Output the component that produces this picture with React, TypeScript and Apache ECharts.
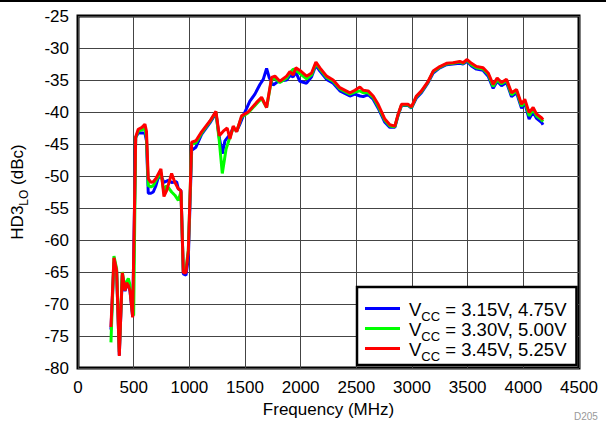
import React, { useEffect, useRef } from "react";
import * as echarts from "echarts";

const xTicks = [0, 500, 1000, 1500, 2000, 2500, 3000, 3500, 4000, 4500];
const yTicks = [-80, -75, -70, -65, -60, -55, -50, -45, -40, -35, -30, -25];

const seriesNames = [
  "{v|V}{s|CC}{v| = 3.15V, 4.75V}",
  "{v|V}{s|CC}{v| = 3.30V, 5.00V}",
  "{v|V}{s|CC}{v| = 3.45V, 5.25V}",
];

const blueData: [number, number][] = [
  [296, -74], [323, -63.5], [347, -65], [371, -78], [398, -65.5], [422, -68], [437, -67], [452, -67], [467, -68], [491, -72],
  [518, -44], [541, -43.3], [575, -43.3], [601, -43.3], [615, -44.5], [631, -52.7], [655, -52.7], [676, -52.5], [700, -51.5],
  [720, -50.3], [745, -50.0], [772, -51.0], [811, -50.7], [841, -51], [886, -50.9], [901, -52.0], [925, -52.3], [946, -65.3],
  [970, -65.5], [991, -62.8], [1021, -46], [1059, -45.5], [1110, -43.5], [1185, -41.7], [1239, -40.2], [1269, -44], [1296, -46.5],
  [1320, -44.5], [1365, -43.5], [1394, -42.5], [1425, -43], [1454, -41.9], [1484, -40.6], [1544, -38.3], [1589, -37.2],
  [1634, -35.7], [1664, -34.9], [1694, -33.2], [1717, -34.6], [1753, -35.8], [1798, -35.2], [1874, -35], [1903, -34.3],
  [1933, -34.5], [1957, -33.8], [1993, -35.2], [2053, -35.5], [2098, -34.5], [2137, -32.7], [2173, -33.6], [2233, -34.9],
  [2292, -35.5], [2352, -36.7], [2442, -37.5], [2487, -37.2], [2532, -37.5], [2562, -37.6], [2606, -37.3], [2651, -38],
  [2696, -39.4], [2756, -41.6], [2801, -42.4], [2846, -42.4], [2876, -40.5], [2906, -39], [2966, -39], [2995, -39.4],
  [3040, -37.8], [3085, -37.0], [3145, -35.4], [3190, -33.9], [3250, -33.1], [3310, -32.6], [3369, -32.5], [3429, -32.4],
  [3459, -32.5], [3495, -32.1], [3534, -32.8], [3579, -33.3], [3639, -33.5], [3684, -34.4], [3729, -36.3], [3765, -35.2],
  [3804, -35.9], [3849, -35.4], [3894, -37.6], [3939, -37.0], [3984, -39.4], [4013, -38.6], [4052, -41.1], [4088, -40.0],
  [4118, -41.0], [4163, -41.6], [4177, -42.0],
];

const greenData: [number, number][] = [
  [296, -76], [323, -62.5], [347, -64.5], [371, -77.5], [398, -65], [422, -67.5], [437, -66.5], [452, -66.0], [467, -67],
  [491, -71.6], [500, -71.8], [518, -44], [541, -43], [575, -42.8], [601, -42.5], [615, -44], [631, -51.5], [655, -51.7],
  [676, -51.5], [700, -50.7], [745, -49.5], [772, -52.5], [796, -51.5], [820, -52], [841, -52.5], [870, -53], [901, -53.8],
  [925, -52.5], [946, -65], [970, -64.5], [991, -61.5], [1021, -45], [1059, -44.8], [1110, -43.3], [1185, -41.5], [1239, -40],
  [1269, -44.5], [1296, -49.6], [1330, -45.8], [1365, -43.9], [1394, -42.5], [1425, -43.0], [1469, -40.8], [1529, -40.1],
  [1604, -38.7], [1649, -37.9], [1694, -39.3], [1739, -34.9], [1769, -34.7], [1813, -35.4], [1874, -34.7], [1903, -33.9],
  [1933, -33.3], [1957, -33.5], [1993, -34.0], [2053, -34.8], [2098, -34.2], [2137, -32.4], [2173, -33.3], [2233, -34.6],
  [2292, -35.2], [2352, -36.4], [2442, -37.2], [2487, -36.9], [2532, -36.7], [2562, -37.0], [2606, -37.0], [2651, -37.7],
  [2696, -39.1], [2756, -41.3], [2801, -42.2], [2846, -42.3], [2876, -40.4], [2906, -38.9], [2966, -38.9], [2995, -39.3],
  [3040, -37.6], [3085, -36.8], [3145, -35.3], [3190, -33.7], [3250, -33.0], [3310, -32.5], [3369, -32.4], [3429, -32.2],
  [3459, -32.4], [3495, -31.9], [3534, -32.6], [3579, -33.1], [3639, -33.3], [3684, -34.1], [3729, -36.0], [3765, -35.0],
  [3804, -35.6], [3849, -35.1], [3894, -37.3], [3939, -36.7], [3984, -39.1], [4013, -38.3], [4052, -40.6], [4088, -39.6],
  [4118, -40.6], [4163, -41.2], [4177, -41.5],
];

const redData: [number, number][] = [
  [296, -73.6], [323, -62.8], [347, -64.8], [371, -78.1], [398, -65.1], [422, -67.9], [437, -66.7], [452, -67.1], [467, -67.9],
  [491, -72.1], [518, -43.9], [541, -42.7], [575, -42.4], [601, -41.9], [615, -43], [631, -50.4], [655, -51.0], [676, -50.9],
  [700, -50.4], [745, -48.9], [772, -53.2], [796, -52.3], [841, -49.6], [870, -51], [901, -52.0], [925, -52.3], [946, -65.1],
  [970, -65.1], [991, -61.7], [1021, -44.7], [1059, -44.5], [1110, -43.1], [1185, -41.4], [1239, -39.9], [1269, -43.7],
  [1305, -43.0], [1340, -42.5], [1365, -44.2], [1394, -42.2], [1425, -43.1], [1469, -40.6], [1529, -40.0], [1604, -38.5],
  [1649, -37.7], [1694, -39.3], [1739, -34.6], [1769, -34.4], [1813, -35.2], [1874, -34.4], [1903, -33.7], [1933, -34.2],
  [1957, -33.1], [1993, -33.5], [2053, -34.4], [2098, -33.9], [2137, -32.2], [2173, -33.1], [2233, -34.4], [2292, -35.0],
  [2352, -36.2], [2442, -37.0], [2487, -36.6], [2532, -36.1], [2562, -36.6], [2606, -36.7], [2651, -37.5], [2696, -38.8],
  [2756, -41.1], [2801, -42.0], [2846, -42.2], [2876, -40.3], [2906, -38.8], [2966, -38.8], [2995, -39.2], [3040, -37.5],
  [3085, -36.7], [3145, -35.2], [3190, -33.6], [3250, -32.9], [3310, -32.4], [3369, -32.3], [3429, -32.1], [3459, -32.3],
  [3495, -31.8], [3534, -32.4], [3579, -32.9], [3639, -33.1], [3684, -33.9], [3729, -35.7], [3765, -34.7], [3804, -35.4],
  [3849, -34.9], [3894, -37.0], [3939, -36.5], [3984, -38.8], [4013, -38.0], [4052, -40.1], [4088, -39.3], [4118, -40.3],
  [4163, -40.9], [4177, -41.2],
];

const FONT = "'Liberation Sans', Arial, sans-serif";

export default function App() {
  const ref = useRef<HTMLDivElement>(null);
  useEffect(() => {
    if (!ref.current) return;
    const chart = echarts.init(ref.current, null, { renderer: "svg" });
    const mk = (name: string, data: [number, number][], color: string) => ({
      name,
      type: "line",
      data,
      showSymbol: false,
      symbol: "none",
      lineStyle: { color, width: 3 },
      itemStyle: { color },
      color,
    });
    chart.setOption({
      animation: false,
      backgroundColor: "#ffffff",
      textStyle: { fontFamily: FONT },
      grid: {
        left: 78,
        right: 27,
        top: 16,
        bottom: 52,
        show: true,
        borderColor: "#000",
        borderWidth: 3,
        backgroundColor: "transparent",
      },
      xAxis: {
        type: "value",
        min: xTicks[0],
        max: xTicks[xTicks.length - 1],
        interval: 500,
        name: "Frequency (MHz)",
        nameLocation: "middle",
        nameGap: 33,
        nameTextStyle: { fontSize: 17, color: "#000", fontFamily: FONT },
        axisLine: { show: false },
        axisTick: { show: false },
        axisLabel: {
          fontSize: 17,
          color: "#000",
          margin: 11,
          fontFamily: FONT,
          formatter: (v: number) => String(v),
        },
        splitLine: { show: true, lineStyle: { color: "#444", width: 1 } },
      },
      yAxis: {
        type: "value",
        min: yTicks[0],
        max: yTicks[yTicks.length - 1],
        interval: 5,
        name: "{a|HD3}{b|LO}{a| (dBc)}",
        nameLocation: "middle",
        nameGap: 52,
        nameRotate: 90,
        nameTextStyle: {
          color: "#000",
          fontFamily: FONT,
          rich: {
            a: { fontSize: 17, color: "#000", fontFamily: FONT, lineHeight: 22, verticalAlign: "bottom" },
            b: { fontSize: 12, color: "#000", fontFamily: FONT, lineHeight: 22, verticalAlign: "bottom", padding: [0, 0, -4, 0] },
          },
        },
        axisLine: { show: false },
        axisTick: { show: false },
        axisLabel: {
          fontSize: 17,
          color: "#000",
          margin: 9,
          fontFamily: FONT,
          formatter: (v: number) => String(v),
        },
        splitLine: { show: true, lineStyle: { color: "#444", width: 1 } },
      },
      legend: {
        show: true,
        orient: "vertical",
        left: 357,
        top: 287,
        width: 221,
        padding: [13, 10, 2, 8],
        itemWidth: 35,
        itemHeight: 14,
        itemGap: -3,
        backgroundColor: "#fff",
        borderColor: "#000",
        borderWidth: 2.5,
        data: seriesNames.map((n) => ({ name: n, icon: "path://M0,6 L35,6 L35,9 L0,9 Z" })),
        textStyle: {
          fontFamily: FONT,
          color: "#000",
          padding: [0, 0, 0, 4],
          rich: {
            v: { fontSize: 18.5, color: "#000", fontFamily: FONT, lineHeight: 21, verticalAlign: "bottom" },
            s: { fontSize: 13, color: "#000", fontFamily: FONT, lineHeight: 21, verticalAlign: "bottom", padding: [0, 0, -4, 0] },
          },
        },
      },
      series: [
        mk(seriesNames[0], blueData, "#0000ff"),
        mk(seriesNames[1], greenData, "#00ff00"),
        mk(seriesNames[2], redData, "#ff0000"),
      ],
      graphic: [
        { type: "line", shape: { x1: 0, y1: 1, x2: 606, y2: 1 }, style: { stroke: "#000", lineWidth: 2 } },
        {
          type: "text",
          left: 574,
          top: 411,
          style: { text: "D205", fontSize: 10, fill: "#999", fontFamily: FONT },
        },
      ],
    });
    return () => chart.dispose();
  }, []);
  return (
    <div
      ref={ref}
      style={{ position: "fixed", left: 0, top: 0, width: 606, height: 423, background: "#fff" }}
    />
  );
}
